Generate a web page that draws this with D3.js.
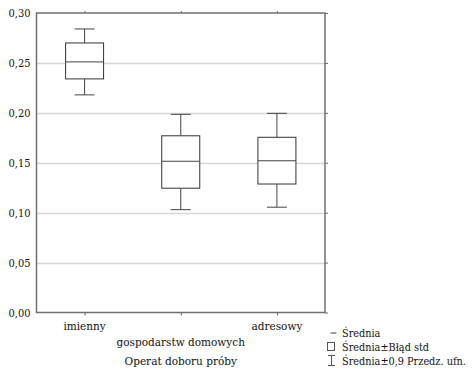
<!DOCTYPE html>
<html>
<head>
<meta charset="utf-8">
<script src="https://cdn.jsdelivr.net/npm/d3@7"></script>
<style>
  html, body { margin: 0; padding: 0; background: #fff; }
  svg { display: block; }
  text { font-family: "DejaVu Serif Condensed", "DejaVu Serif", serif; fill: #111; }
</style>
</head>
<body>
<svg id="chart" width="472" height="370"></svg>
<script>
// Sampling frame categories
const categories = ["imienny", "gospodarstw domowych", "adresowy"];
// Mean per category
const means = [0.251, 0.1515, 0.152];
// Mean ± standard error (box edges)
const seLow  = [0.234, 0.1245, 0.1287];
const seHigh = [0.270, 0.177, 0.1755];
// Mean ± 0.9 confidence interval (whisker ends)
const ciLow  = [0.218, 0.103, 0.1055];
const ciHigh = [0.284, 0.1985, 0.1995];
// Y axis ticks
const yTicks = [0, 0.05, 0.10, 0.15, 0.20, 0.25, 0.30];
const legendLabels = ["Średnia", "Średnia±Błąd std", "Średnia±0,9 Przedz. ufn."];
const xTitle = "Operat doboru próby";

const svg = d3.select("#chart");
const plot = { left: 36.5, right: 325, top: 13, bottom: 312.5 };

const x = d3.scalePoint().domain(categories).range([plot.left, plot.right]).padding(0.5);
const y = d3.scaleLinear().domain([0, 0.30]).range([plot.bottom, plot.top]);
const fmt = d => d3.format(".2f")(d).replace(".", ",");

// horizontal grid
svg.append("g").selectAll("line")
  .data(yTicks.filter(t => t > 0 && t < 0.30))
  .join("line")
  .attr("x1", plot.left).attr("x2", plot.right)
  .attr("y1", d => Math.round(y(d)) + 0.5).attr("y2", d => Math.round(y(d)) + 0.5)
  .attr("stroke", "#d6d6d6").attr("stroke-width", 1.5);

// left axis labels
const yAxis = d3.axisLeft(y).tickValues(yTicks).tickFormat(fmt).tickSize(0).tickPadding(6);
const gy = svg.append("g").attr("transform", `translate(${plot.left},0)`).call(yAxis);
gy.select(".domain").remove();
gy.selectAll("text").style("font-size", "11px").attr("fill", "#111");

// right-side ticks
const gr = svg.append("g").attr("transform", `translate(${plot.right},0)`)
  .call(d3.axisRight(y).tickValues(yTicks).tickSize(3).tickFormat(""));
gr.select(".domain").remove();
gr.selectAll("line").attr("stroke", "#666");

// bottom and top ticks
const gx = svg.append("g").attr("transform", `translate(0,${plot.bottom})`)
  .call(d3.axisBottom(x).tickSize(3).tickFormat(""));
gx.select(".domain").remove();
gx.selectAll("line").attr("stroke", "#666");
const gt = svg.append("g").attr("transform", `translate(0,${plot.top})`)
  .call(d3.axisTop(x).tickSize(2).tickFormat(""));
gt.select(".domain").remove();
gt.selectAll("line").attr("stroke", "#666");

// staggered category labels
svg.append("g").selectAll("text")
  .data(categories)
  .join("text")
  .attr("x", d => x(d))
  .attr("y", (d, i) => i % 2 === 1 ? 345.5 : 330)
  .attr("text-anchor", "middle")
  .style("font-size", "11.7px")
  .text(d => d);

// axis title, centred under the plot
svg.append("text")
  .attr("x", (plot.left + plot.right) / 2).attr("y", 365)
  .attr("text-anchor", "middle")
  .style("font-size", "11.7px")
  .text(xTitle);

// frame
svg.append("rect")
  .attr("x", plot.left).attr("y", plot.top)
  .attr("width", plot.right - plot.left).attr("height", plot.bottom - plot.top)
  .attr("fill", "none").attr("stroke", "#707070").attr("stroke-width", 1.5);

// box plots
const boxW = 38, capW = 20;
const idx = d3.range(categories.length);
const boxes = svg.append("g").selectAll("g").data(idx).join("g");
boxes.append("line")
  .attr("x1", i => x(categories[i])).attr("x2", i => x(categories[i]))
  .attr("y1", i => y(ciHigh[i])).attr("y2", i => y(seHigh[i]))
  .attr("stroke", "#444");
boxes.append("line")
  .attr("x1", i => x(categories[i])).attr("x2", i => x(categories[i]))
  .attr("y1", i => y(seLow[i])).attr("y2", i => y(ciLow[i]))
  .attr("stroke", "#444");
boxes.append("line")
  .attr("x1", i => x(categories[i]) - capW / 2).attr("x2", i => x(categories[i]) + capW / 2)
  .attr("y1", i => y(ciHigh[i])).attr("y2", i => y(ciHigh[i]))
  .attr("stroke", "#444");
boxes.append("line")
  .attr("x1", i => x(categories[i]) - capW / 2).attr("x2", i => x(categories[i]) + capW / 2)
  .attr("y1", i => y(ciLow[i])).attr("y2", i => y(ciLow[i]))
  .attr("stroke", "#444");
boxes.append("rect")
  .attr("x", i => x(categories[i]) - boxW / 2)
  .attr("y", i => y(seHigh[i]))
  .attr("width", boxW)
  .attr("height", i => y(seLow[i]) - y(seHigh[i]))
  .attr("fill", "#fff").attr("stroke", "#333");
boxes.append("line")
  .attr("x1", i => x(categories[i]) - boxW / 2).attr("x2", i => x(categories[i]) + boxW / 2)
  .attr("y1", i => y(means[i])).attr("y2", i => y(means[i]))
  .attr("stroke", "#444");

// legend
const lg = svg.append("g");
const rowY = [333, 346.5, 360.5];
lg.append("line").attr("x1", 330.5).attr("x2", 336.5).attr("y1", rowY[0]).attr("y2", rowY[0])
  .attr("stroke", "#444");
lg.append("rect").attr("x", 327.5).attr("y", rowY[1] - 4).attr("width", 7).attr("height", 8)
  .attr("fill", "#fff").attr("stroke", "#555");
lg.append("path")
  .attr("d", `M328,${rowY[2] - 5}H335M331.5,${rowY[2] - 5}V${rowY[2] + 5}M328,${rowY[2] + 5}H335`)
  .attr("stroke", "#555").attr("fill", "none");
lg.selectAll("text.leg").data(legendLabels).join("text")
  .attr("class", "leg")
  .attr("x", 342).attr("y", (d, i) => rowY[i] + 4)
  .style("font-size", "10.8px")
  .text(d => d);
</script>
</body>
</html>
